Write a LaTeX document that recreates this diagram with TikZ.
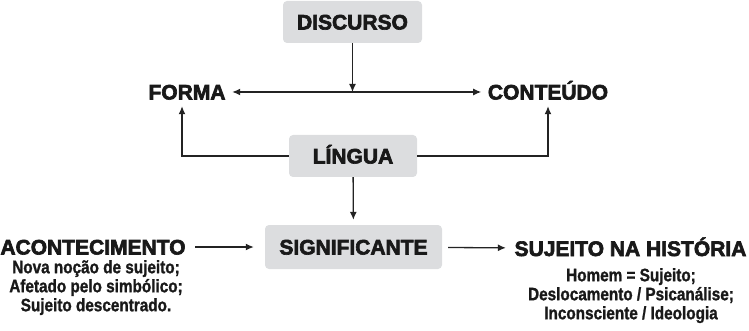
\documentclass[tikz,border=0pt]{standalone}
\usepackage{fontspec}
\setmainfont{Liberation Sans}
\newfontfamily\negrito{Liberation Sans}[BoldFeatures={FakeBold=3}]
\newfontfamily\subfonte{Liberation Sans}[FakeStretch=0.85, BoldFeatures={FakeBold=1.2}]
\usetikzlibrary{arrows.meta}
\definecolor{cinzacaixa}{RGB}{220,221,223}
\definecolor{traco}{RGB}{35,35,35}

\begin{document}
\begin{tikzpicture}[x=1pt, y=-1pt]
\tikzset{caixa/.style={fill=cinzacaixa, rounded corners=4pt, minimum height=42pt, inner sep=0pt, text height=15pt, text depth=0pt, font=\negrito\bfseries\fontsize{21}{21}\selectfont, text=black!90},
  rotulo/.style={inner sep=6.5pt, text height=15pt, text depth=0pt, font=\negrito\bfseries\fontsize{21}{21}\selectfont, text=black!90},
  subtexto/.style={inner sep=0pt, align=center, anchor=north, font=\subfonte\bfseries\fontsize{18}{19}\selectfont, text=black!90},
  seta/.style={draw=traco, line width=1.3pt, -{Latex[length=8pt,width=7pt]}}}
\useasboundingbox (0,0) rectangle (749,331);
\node[caixa, minimum width=139pt] (discurso) at (352.5, 22) {DISCURSO};
\node[rotulo] (forma) at (187, 92) {FORMA};
\node[rotulo] (conteudo) at (548, 92) {CONTEÚDO};
\node[caixa, minimum width=128pt] (lingua) at (353, 156) {LÍNGUA};
\node[caixa, minimum width=177pt, minimum height=44pt] (significante) at (353.5, 247) {SIGNIFICANTE};
\node[rotulo] (acontecimento) at (93, 247) {ACONTECIMENTO};
\node[rotulo] (sujeito) at (630.5, 248.5) {SUJEITO NA HISTÓRIA};
\node[subtexto] (noção) at (96, 260) {Nova noção de sujeito;\\Afetado pelo simbólico;\\Sujeito descentrado.};
\node[subtexto] (homem) at (631, 268) {Homem = Sujeito;\\Deslocamento / Psicanálise;\\Inconsciente / Ideologia};
\coordinate (meio) at (discurso.south |- forma.east);
\draw[seta] (discurso) -- (meio);
\draw[seta, {Latex[length=8pt,width=7pt]}-{Latex[length=8pt,width=7pt]}] (forma) -- (conteudo);
\draw[seta] (lingua) -| ([xshift=-5pt]forma.south);
\draw[seta] (lingua) -| (conteudo.south);
\draw[seta, shorten >=5pt] (lingua) -- (significante);
\draw[seta, shorten <=3pt, shorten >=11pt] (acontecimento) -- (significante);
\draw[seta, shorten <=6pt, shorten >=2pt] (significante) -- (sujeito);
\end{tikzpicture}
\end{document}
